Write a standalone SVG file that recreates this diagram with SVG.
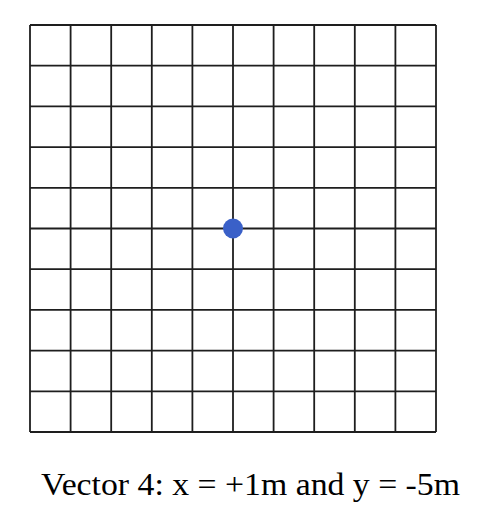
<svg xmlns="http://www.w3.org/2000/svg" width="486" height="524" viewBox="0 0 486 524">
<style>
.g line{stroke:#1e1e1e;stroke-width:1.8}
.lbl{font-family:"Liberation Serif","Times New Roman",serif;font-size:31px;fill:#000}
</style>
<rect width="486" height="524" fill="#fff"/>
<g id="grid" class="g">
<line x1="30" y1="25" x2="30" y2="432"/>
<line x1="70.6" y1="25" x2="70.6" y2="432"/>
<line x1="111.2" y1="25" x2="111.2" y2="432"/>
<line x1="151.8" y1="25" x2="151.8" y2="432"/>
<line x1="192.4" y1="25" x2="192.4" y2="432"/>
<line x1="233" y1="25" x2="233" y2="432"/>
<line x1="273.6" y1="25" x2="273.6" y2="432"/>
<line x1="314.2" y1="25" x2="314.2" y2="432"/>
<line x1="354.8" y1="25" x2="354.8" y2="432"/>
<line x1="395.4" y1="25" x2="395.4" y2="432"/>
<line x1="436" y1="25" x2="436" y2="432"/>
<line x1="30" y1="25" x2="436" y2="25"/>
<line x1="30" y1="65.7" x2="436" y2="65.7"/>
<line x1="30" y1="106.4" x2="436" y2="106.4"/>
<line x1="30" y1="147.1" x2="436" y2="147.1"/>
<line x1="30" y1="187.8" x2="436" y2="187.8"/>
<line x1="30" y1="228.5" x2="436" y2="228.5"/>
<line x1="30" y1="269.2" x2="436" y2="269.2"/>
<line x1="30" y1="309.9" x2="436" y2="309.9"/>
<line x1="30" y1="350.6" x2="436" y2="350.6"/>
<line x1="30" y1="391.3" x2="436" y2="391.3"/>
<line x1="30" y1="432" x2="436" y2="432"/>
</g>
<g id="dot">
<circle cx="233" cy="228.5" r="10" fill="#3A60C8"/>
</g>
<g id="caption">
<text class="lbl" x="41" y="495" textLength="419" lengthAdjust="spacingAndGlyphs">Vector 4: x = +1m and y = -5m</text>
</g>
</svg>
